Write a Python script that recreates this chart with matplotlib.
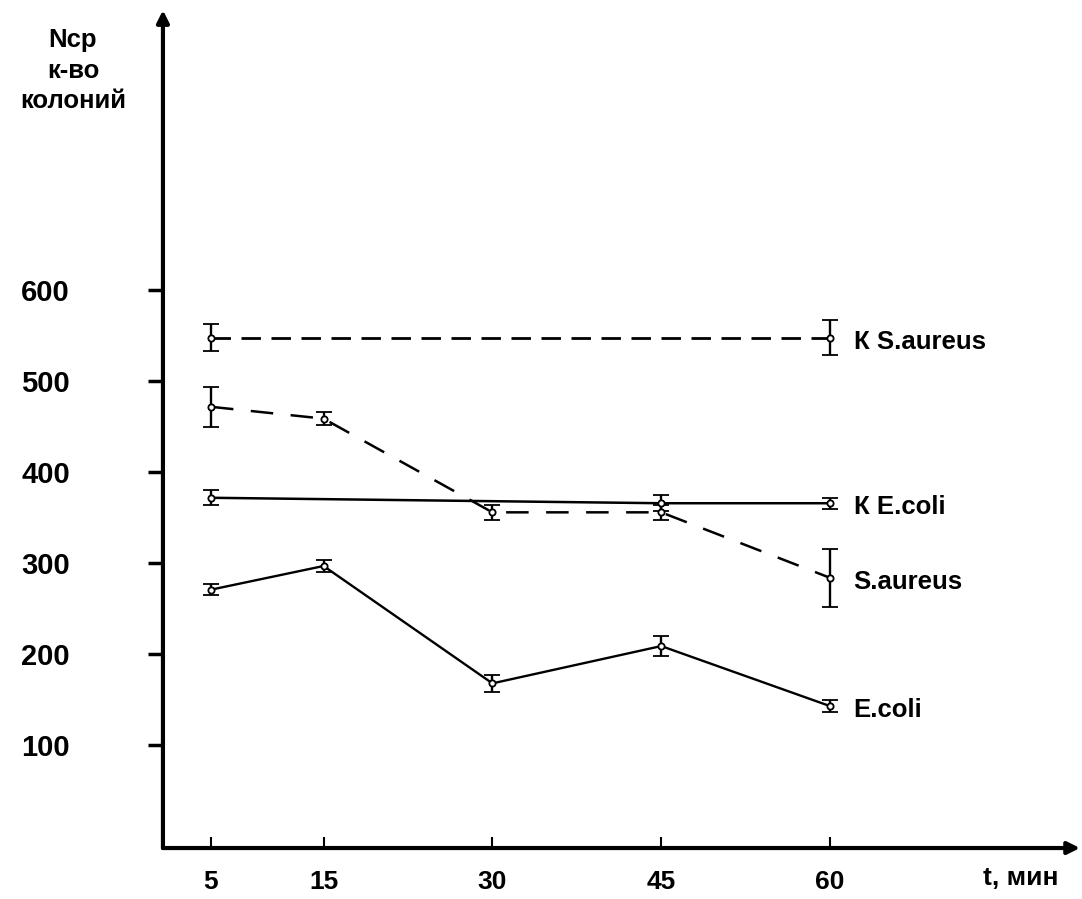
import matplotlib
matplotlib.use("Agg")
import matplotlib.pyplot as plt
from matplotlib import font_manager

# --- данные ---
t = [5, 15, 30, 45, 60]

k_saureus_t = [5, 60]
k_saureus = [548, 548]
k_saureus_err = [15, 19]

saureus = [472, 459, 356, 356, 284]
saureus_err = [22, 7, 8, 8, 32]

k_ecoli_t = [5, 45, 60]
k_ecoli = [372, 366, 366]
k_ecoli_err = [8, 9, 6]

ecoli = [271, 297, 168, 209, 143]
ecoli_err = [6, 7, 9, 11, 7]

y_ticks = [100, 200, 300, 400, 500, 600]
x_ticks = [5, 15, 30, 45, 60]

# --- шрифты ---
installed = {f.name for f in font_manager.fontManager.ttflist}
main_font = ['Liberation Sans', 'DejaVu Sans']
narrow_font = ['Liberation Sans Narrow', 'Liberation Sans', 'DejaVu Sans'] \
    if 'Liberation Sans Narrow' in installed else ['Liberation Sans', 'DejaVu Sans']

fig = plt.figure(figsize=(10.82, 8.99), dpi=100)
ax = fig.add_axes([0.1506, 0.0567, 0.8475, 0.932])
ax.set_xlim(0.73, 82.2)
ax.set_ylim(-13, 908)

for s in ax.spines.values():
    s.set_visible(False)

# оси со стрелками
ax.annotate('', xy=(0, 1), xytext=(0, 0), xycoords='axes fraction',
            arrowprops=dict(arrowstyle='-|>', lw=3, color='black',
                            mutation_scale=18, shrinkA=0, shrinkB=0))
ax.annotate('', xy=(1, 0), xytext=(0, 0), xycoords='axes fraction',
            arrowprops=dict(arrowstyle='-|>', lw=3, color='black',
                            mutation_scale=18, shrinkA=0, shrinkB=0))

err_kw = dict(color='black', capsize=6, elinewidth=1.7, capthick=1.6,
              marker='o', markersize=4.5, mfc='white', mec='black', mew=1.3)

# К S.aureus
ax.errorbar(k_saureus_t, k_saureus, yerr=k_saureus_err, lw=2, dashes=(7, 3.8), **err_kw)
# S.aureus
ax.errorbar(t, saureus, yerr=saureus_err, lw=1.8, dashes=(9, 7), **err_kw)
# К E.coli
ax.errorbar(k_ecoli_t, k_ecoli, yerr=k_ecoli_err, lw=1.8, **err_kw)
# E.coli
ax.errorbar(t, ecoli, yerr=ecoli_err, lw=1.7, **err_kw)

# подписи серий
labels = [("К S.aureus", k_saureus[-1]), ("К E.coli", k_ecoli[-1]),
          ("S.aureus", saureus[-1]), ("E.coli", ecoli[-1])]
for name, yv in labels:
    ax.annotate(name, xy=(60, yv), xytext=(17, -3), textcoords='offset points',
                va='center', ha='left', fontsize=18.5, fontweight='bold', family=main_font)

# деления
ax.set_yticks(y_ticks)
ax.set_yticklabels([str(v) for v in y_ticks], family=narrow_font,
                   fontweight='bold', fontsize=21)
ax.tick_params(axis='y', direction='out', length=11, width=2.5, pad=56)
ax.set_xticks(x_ticks)
ax.set_xticklabels([str(v) for v in x_ticks], family=narrow_font,
                   fontweight='bold', fontsize=19)
ax.tick_params(axis='x', direction='in', length=8, width=1.5, pad=16)

ax.text(0.935, -0.036, "t, мин", transform=ax.transAxes, ha='center', va='center',
        fontsize=19, fontweight='bold', family=narrow_font)

fig.text(73 / 1082, 1 - 28 / 899, "Nср\nк-во\nколоний", ha='center', va='top',
         fontsize=18.5, fontweight='bold', family=main_font, linespacing=1.35)

fig.savefig("out.png", dpi=100)
